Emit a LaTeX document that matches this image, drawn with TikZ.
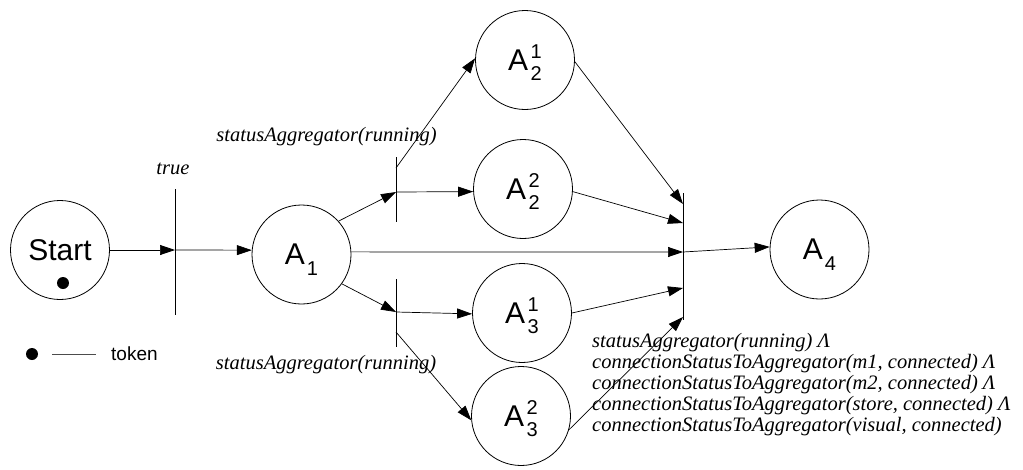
\documentclass[tikz,border=0pt]{standalone}
\usepackage{fontspec}
\setmainfont{Liberation Serif}
\newfontfamily\arialfont{Liberation Sans}
\usetikzlibrary{arrows.meta}

% place label: A with sub- and optional superscript, scripts take no vertical room
\newcommand{\scriptfnt}{\fontsize{20}{20}\selectfont}
\newcommand{\placeA}[1]{A\kern2pt\raisebox{-11pt}[0pt][0pt]{\scriptfnt #1}}
\newcommand{\placeAA}[2]{A\kern2.5pt\rlap{\raisebox{12pt}[0pt][0pt]{\scriptfnt #2}}\raisebox{-10.5pt}[0pt][0pt]{\scriptfnt #1}}

\begin{document}
\begin{tikzpicture}[x=1pt,y=-1pt,
  place/.style={circle, draw, line width=0.8pt, minimum size=99pt, inner sep=0pt,
                font=\arialfont\fontsize{30}{30}\selectfont},
  bar/.style={line width=0.9pt},
  arc/.style={-{Triangle[length=15pt,width=10pt]}, line width=0.7pt},
  cond/.style={inner sep=0pt, font=\itshape\fontsize{20.5}{21}\selectfont},
  tok/.style={circle, fill, inner sep=0pt, minimum size=12pt}
]
\useasboundingbox (0,0) rectangle (1023,469);

% places
\node[place] (start) at (60,250)    {Start};
\node[place] (A1)    at (301.5,254.5) {\placeA{1}};
\node[place] (A21)   at (525,60)    {\placeAA{2}{1}};
\node[place] (A22)   at (523,189)   {\placeAA{2}{2}};
\node[place] (A31)   at (522,313)   {\placeAA{3}{1}};
\node[place] (A32)   at (521,416)   {\placeAA{3}{2}};
\node[place] (A4)    at (819.5,249.5) {\placeA{4}};

% token in Start
\node[tok] (tk) at (63,283) {};

% transition bars
\coordinate (t1top) at (175,189); \coordinate (t1bot) at (175,315);
\coordinate (t2top) at (396,157); \coordinate (t2bot) at (396,222);
\coordinate (t3top) at (396,279); \coordinate (t3bot) at (396,347);
\coordinate (tjtop) at (683,193); \coordinate (tjbot) at (683,320);
\draw[bar] (t1top) -- (t1bot);
\draw[bar] (t2top) -- (t2bot);
\draw[bar] (t3top) -- (t3bot);
\draw[bar] (tjtop) -- (tjbot);

% ports on the bars
\coordinate (t1in) at (175,250);
\coordinate (t2in) at (396,192);
\coordinate (t2up) at (396,168);
\coordinate (t3in) at (396,312);
\coordinate (t3dn) at (396,332);
\coordinate (j1) at (683,204);
\coordinate (j2) at (683,223);
\coordinate (j3) at (683,252);
\coordinate (j4) at (683,288);
\coordinate (j5) at (683,317);

% arcs
\draw[arc] (start) -- (t1in);
\draw[arc] (t1in) -- (A1.175);
\draw[arc] (A1.42) -- (t2in);
\draw[arc] (A1.-36) -- (t3in);
\draw[arc] (t2up) -- (A21.178);
\draw[arc] (t2in) -- (A22.183);
\draw[arc] (t3in) -- (A31.181);
\draw[arc] (t3dn) -- (A32.185);
\draw[arc] (A21.-2) -- (j1);
\draw[arc] (A22.-3) -- (j2);
\draw[arc] (A1.3) -- (j3);
\draw[arc] (A31.east) -- (j4);
\draw[arc] (A32.-16) -- (j5);
\draw[arc] (j3) -- (A4.177);

% guard conditions
\node[cond] (g1) at (173,169) {true};
\node[cond] (g2) at (326.5,137) {statusAggregator(running)};
\node[cond] (g3) at (326,365) {statusAggregator(running)};
\node[cond, align=left, anchor=north west] (g4) at (592,333.5)
  {statusAggregator(running) Λ\\
   connectionStatusToAggregator(m1, connected) Λ\\
   connectionStatusToAggregator(m2, connected) Λ\\
   connectionStatusToAggregator(store, connected) Λ\\
   connectionStatusToAggregator(visual, connected)};

% legend
\node[tok] (ltk) at (32,354) {};
\node[inner sep=0pt, anchor=west, font=\arialfont\fontsize{19}{19}\selectfont] (ltext) at (111,354) {token};
\draw[line width=0.8pt, black!70] ([xshift=14pt]ltk.east) -- ([xshift=-15pt]ltext.west);
\end{tikzpicture}
\end{document}
